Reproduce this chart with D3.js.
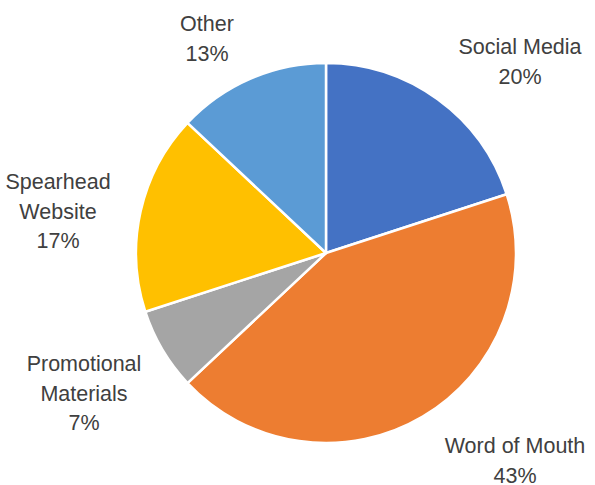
<!DOCTYPE html>
<html>
<head>
<meta charset="utf-8">
<script src="https://cdn.jsdelivr.net/npm/d3@7"></script>
<style>
  html, body { margin: 0; padding: 0; background: #ffffff; }
  svg { display: block; }
</style>
</head>
<body>
<svg id="chart" width="595" height="485"></svg>
<script>
// Share of responses by source, in clockwise order starting at 12 o'clock
const categories = ["Social Media", "Word of Mouth", "Promotional Materials", "Spearhead Website", "Other"];
const shares = [20, 43, 7, 17, 13];
const colors = ["#4472C4", "#ED7D31", "#A5A5A5", "#FFC000", "#5B9BD5"];

// Label text lines for each slice (name broken over lines, then the percentage)
const labelLines = [
  ["Social Media"],
  ["Word of Mouth"],
  ["Promotional", "Materials"],
  ["Spearhead", "Website"],
  ["Other"]
];
// Anchor point (center x, first baseline y) of each label block
const labelAnchors = [
  [520, 54],
  [515, 453],
  [84, 371],
  [58, 189],
  [207, 31]
];

const svg = d3.select("#chart");
const cx = 326, cy = 253, radius = 190;
const lineHeight = 29.5;

const pie = d3.pie().sort(null).value(d => d.value);
const arc = d3.arc().innerRadius(0).outerRadius(radius);

const data = categories.map((c, i) => ({ name: c, value: shares[i], color: colors[i] }));
const arcs = pie(data);

const g = svg.append("g").attr("transform", `translate(${cx},${cy})`);

g.selectAll("path.slice")
  .data(arcs)
  .join("path")
  .attr("class", "slice")
  .attr("d", arc)
  .attr("fill", d => d.data.color)
  .attr("stroke", "#ffffff")
  .attr("stroke-width", 2.5)
  .attr("stroke-linejoin", "round");

// Data labels: category name lines followed by the percentage
const labels = svg.selectAll("text.label")
  .data(arcs)
  .join("text")
  .attr("class", "label")
  .attr("text-anchor", "middle")
  .attr("font-family", "'Liberation Sans', Arial, sans-serif")
  .attr("font-size", 21.5)
  .attr("fill", "#404040");

labels.each(function(d, i) {
  const t = d3.select(this);
  const [ax, ay] = labelAnchors[i];
  const lines = labelLines[i].concat([d3.format(".0f")(d.data.value) + "%"]);
  lines.forEach((line, k) => {
    t.append("tspan")
      .attr("x", ax)
      .attr("y", ay + k * lineHeight)
      .text(line);
  });
});
</script>
</body>
</html>
